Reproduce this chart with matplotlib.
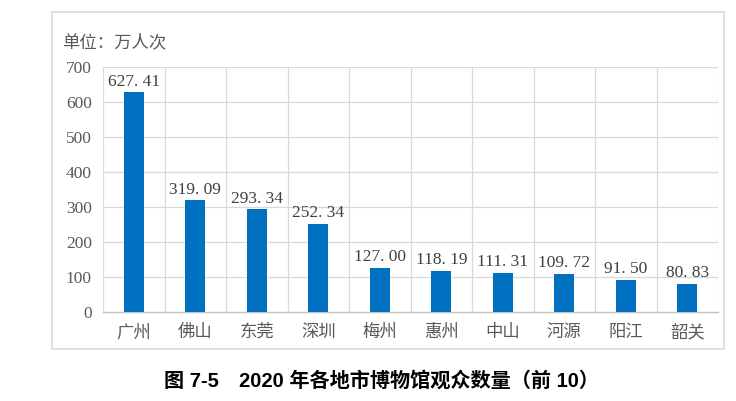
import matplotlib
matplotlib.use("Agg")
import matplotlib.pyplot as plt
from matplotlib.patches import Rectangle

cities = ["广州", "佛山", "东莞", "深圳", "梅州", "惠州", "中山", "河源", "阳江", "韶关"]
visitors = [627.41, 319.09, 293.34, 252.34, 127.00, 118.19, 111.31, 109.72, 91.50, 80.83]
yticks = [0, 100, 200, 300, 400, 500, 600, 700]
unit_label = "单位：万人次"
caption = "图 7-5　2020 年各地市博物馆观众数量（前 10）"

fam = ["Liberation Serif", "Noto Sans CJK SC", "DejaVu Sans"]
cjk = ["Noto Sans CJK SC", "DejaVu Sans"]
gray_text = "#595959"

fig = plt.figure(figsize=(7.36, 4.01), dpi=100)
fig.patches.append(Rectangle((52/736, 1-349/401), (724-52)/736, (349-12)/401,
                             transform=fig.transFigure, fill=False,
                             edgecolor="#d9d9d9", linewidth=1.2))
ax = fig.add_axes([103/736, 1-312/401, (718-103)/736, (312-67)/401])

x = list(range(len(cities)))
ax.bar(x, visitors, width=0.32, color="#0070c0", zorder=3)
ax.set_xlim(-0.5, len(cities)-0.5)
ax.set_ylim(0, 700)
ax.set_yticks(yticks)
ax.set_yticklabels([str(v) for v in yticks], family=fam, fontsize=12.5, color=gray_text)
ax.set_xticks(x)
ax.set_xticklabels(cities, family=cjk, fontsize=12.5, color=gray_text)
ax.tick_params(length=0, pad=8)
ax.tick_params(axis="x", pad=8)

for yv in yticks[1:]:
    ax.axhline(yv, color="#d9d9d9", linewidth=0.9, zorder=1)
for b in range(len(cities)+1):
    ax.axvline(b-0.5, color="#d9d9d9", linewidth=0.9, zorder=1)

for s in ["top", "right", "left"]:
    ax.spines[s].set_visible(False)
ax.spines["bottom"].set_color("#bfbfbf")
ax.spines["bottom"].set_linewidth(1.0)

for xi, v in zip(x, visitors):
    ax.annotate(f"{v:.2f}".replace(".", ". "), (xi, v), xytext=(0, 2),
                textcoords="offset points", ha="center", va="bottom",
                family=fam, fontsize=12.5, color="#404040", zorder=4)

fig.text(62/736, 1-42/401, unit_label, family=cjk, fontsize=12.5,
         color=gray_text, ha="left", va="center")
fig.text(382/736, 1-381/401, caption, family=["Liberation Sans", "Noto Sans CJK SC"],
         fontsize=14.5, fontweight="bold", color="black", ha="center", va="center")

fig.savefig("out.png", dpi=100)
